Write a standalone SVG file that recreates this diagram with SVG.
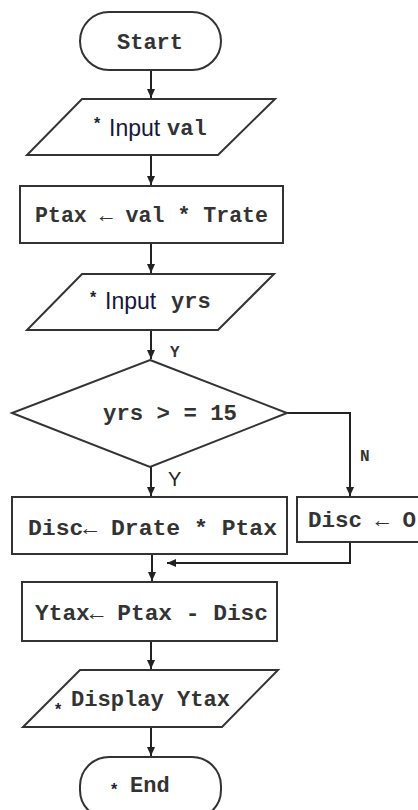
<svg xmlns="http://www.w3.org/2000/svg" width="418" height="810" viewBox="0 0 418 810">
<style>
.s{fill:#fff;stroke:#333;stroke-width:2}
.c{fill:none;stroke:#222;stroke-width:2}
.m{font-family:"Liberation Mono","DejaVu Sans Mono",monospace;font-weight:bold;font-size:22px;fill:#333}
.ar{font-family:"DejaVu Sans",sans-serif;font-weight:normal}
.a{font-family:"Liberation Sans","DejaVu Sans",sans-serif;font-size:23px;fill:#16163a}
.st{font-family:"Liberation Sans",sans-serif;font-weight:bold;font-size:16px;fill:#223}
.l{font-family:"Liberation Mono",monospace;font-weight:bold;font-size:16px;fill:#333}
</style>
<defs>
<marker id="ar" markerWidth="10" markerHeight="10" refX="9" refY="5" orient="auto" markerUnits="userSpaceOnUse">
<path d="M0,1 L9,5 L0,9 Z" fill="#222"/>
</marker>
</defs>
<g id="connectors">
<line class="c" x1="151" y1="70" x2="151" y2="98" marker-end="url(#ar)"/>
<line class="c" x1="151" y1="155" x2="151" y2="185" marker-end="url(#ar)"/>
<line class="c" x1="151" y1="243" x2="151" y2="273" marker-end="url(#ar)"/>
<line class="c" x1="151" y1="330" x2="151" y2="359" marker-end="url(#ar)"/>
<text class="l" x="170" y="357">Y</text>
<polyline class="c" points="287,413 350,413 350,496" marker-end="url(#ar)"/>
<text class="l" x="360" y="461">N</text>
<line class="c" x1="151" y1="467" x2="151" y2="496" marker-end="url(#ar)"/>
<text x="168" y="486" font-family="Liberation Sans,sans-serif" font-size="20" fill="#222">Y</text>
<polyline class="c" points="350,542 350,563 167,563" marker-end="url(#ar)"/>
<line class="c" x1="152" y1="554" x2="152" y2="581" marker-end="url(#ar)"/>
<line class="c" x1="151" y1="641" x2="151" y2="669" marker-end="url(#ar)"/>
<line class="c" x1="151" y1="727" x2="151" y2="756" marker-end="url(#ar)"/>
</g>
<g id="start">
<rect class="s" x="80" y="12" width="141" height="58" rx="29"/>
<text class="m" x="150" y="49" text-anchor="middle">Start</text>
</g>
<g id="input-val">
<polygon class="s" points="82,99 275,99 218,155 27,155"/>
<text class="st" x="94" y="129">*</text>
<text class="a" x="109" y="136">Input</text>
<text class="m" x="167" y="135">val</text>
</g>
<g id="ptax">
<rect class="s" x="20" y="186" width="263" height="57"/>
<text class="m" x="35" y="222" textLength="233" lengthAdjust="spacingAndGlyphs">Ptax ← val * Trate</text>
</g>
<g id="input-yrs">
<polygon class="s" points="82,274 274,274 218,330 27,330"/>
<text class="st" x="90" y="303">*</text>
<text class="a" x="105" y="309">Input</text>
<text class="m" x="171" y="308">yrs</text>
</g>
<g id="decision">
<polygon class="s" points="150,360 287,413 150,467 12,413"/>
<text class="m" x="103" y="420" textLength="134" lengthAdjust="spacingAndGlyphs">yrs &gt; = 15</text>
</g>
<g id="disc-yes">
<rect class="s" x="12" y="497" width="275" height="57"/>
<text class="m" x="28" y="535" textLength="249" lengthAdjust="spacingAndGlyphs">Disc← Drate * Ptax</text>
</g>
<g id="disc-no">
<rect class="s" x="297" y="497" width="140" height="45"/>
<text class="m" x="308" y="527" textLength="108" lengthAdjust="spacingAndGlyphs">Disc ← O</text>
</g>
<g id="ytax">
<rect class="s" x="22" y="582" width="255" height="59"/>
<text class="m" x="35" y="620" textLength="233" lengthAdjust="spacingAndGlyphs">Ytax← Ptax - Disc</text>
</g>
<g id="display">
<polygon class="s" points="80,670 278,670 222,727 23,727"/>
<text class="st" x="55" y="715">*</text>
<text class="m" x="71" y="706" textLength="159" lengthAdjust="spacingAndGlyphs">Display Ytax</text>
</g>
<g id="end">
<rect class="s" x="80" y="757" width="141" height="62" rx="29"/>
<text class="st" x="111" y="795">*</text>
<text class="m" x="130" y="792">End</text>
</g>
</svg>
